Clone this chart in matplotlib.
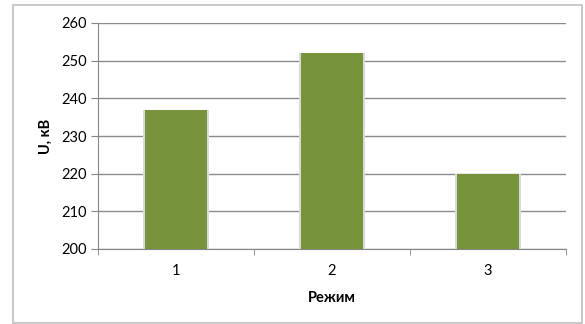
import matplotlib
matplotlib.use("Agg")
import matplotlib.pyplot as plt
from matplotlib.patches import Rectangle

categories = ["1", "2", "3"]
values = [237, 252, 220]
yticks = [200, 210, 220, 230, 240, 250, 260]

plt.rcParams['font.family'] = ['Lato', 'DejaVu Sans']

fig = plt.figure(figsize=(5.85, 3.24), dpi=100)
fig.patch.set_facecolor('white')
# outer chart border
fig.add_artist(Rectangle((13/585, 1 - 323/324), (582-13)/585, (323-5)/324,
                         transform=fig.transFigure, fill=False,
                         edgecolor='#BFBFBF', linewidth=1.2))

ax = fig.add_axes([98/585, 1 - 249/324, (566-98)/585, (249-23)/324])
x = list(range(len(categories)))
# soft shadow behind bars
ax.bar(x, [v - 200 for v in values], bottom=200, width=0.42, color='#DADADA', zorder=2)
ax.bar(x, [v - 200 for v in values], bottom=200, width=0.40, color='#77933C', zorder=3)

ax.set_xlim(-0.5, 2.5)
ax.set_ylim(200, 260)
ax.set_yticks(yticks)
ax.set_yticklabels([str(t) for t in yticks], fontsize=10.5)
ax.set_xticks(x)
ax.set_xticklabels(categories, fontsize=10.5)
ax.set_xticks([-0.5, 0.5, 1.5, 2.5], minor=True)
ax.tick_params(axis='x', which='major', length=0, pad=11)
ax.tick_params(axis='x', which='minor', length=4, color='#868686', direction='out')
ax.tick_params(axis='y', length=5, color='#868686', direction='out', pad=3)
ax.yaxis.grid(True, color='#8C8C8C', linewidth=1.0, zorder=0)
ax.set_axisbelow(True)
for s in ['top', 'right']:
    ax.spines[s].set_visible(False)
ax.spines['left'].set_color('#868686')
ax.spines['bottom'].set_color('#868686')
ax.set_xlabel('Режим', fontsize=10.5, fontweight='bold', labelpad=9)
ax.set_ylabel('U, кВ', fontsize=10.5, fontweight='bold', labelpad=6)

fig.savefig('out.png', dpi=100, facecolor='white')
